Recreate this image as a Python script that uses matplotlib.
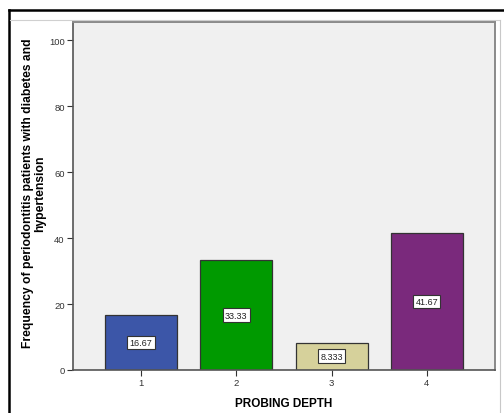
import matplotlib.pyplot as plt
from matplotlib.lines import Line2D

plt.rcParams['font.family'] = ['Liberation Sans', 'DejaVu Sans']

depth = [1, 2, 3, 4]
freq = [16.67, 33.33, 8.333, 41.67]
bar_labels = ['16.67', '33.33', '8.333', '41.67']
colors = ['#3c56a8', '#009a00', '#d6d19b', '#7a297c']
yticks = [0, 20, 40, 60, 80, 100]

fig = plt.figure(figsize=(5.04, 4.14), dpi=100)
ax = fig.add_axes([0.1448, 0.1039, 0.982 - 0.1448, 0.9444 - 0.1039])
ax.set_facecolor('#f0f0f0')

bars = ax.bar(depth, freq, width=0.755, color=colors, edgecolor='#333333', linewidth=0.9, zorder=2)
for b, lab in zip(bars, bar_labels):
    ax.text(b.get_x() + b.get_width() / 2, b.get_height() / 2, lab,
            ha='center', va='center', fontsize=6.5, color='#222222', zorder=3,
            bbox=dict(boxstyle='square,pad=0.25', fc='white', ec='#333333', lw=0.8))

ax.set_xlim(0.286, 4.714)
ax.set_ylim(0, 105.5)
ax.set_xticks(depth)
ax.set_yticks(yticks)
ax.tick_params(axis='both', labelsize=6.8, labelcolor='#333333', color='#333333', length=4, width=0.8, pad=2)

for s in ['top', 'right']:
    ax.spines[s].set_color('#8a8a8a')
    ax.spines[s].set_linewidth(1.4)
for s in ['left', 'bottom']:
    ax.spines[s].set_color('#555555')
    ax.spines[s].set_linewidth(1.2)

ax.set_xlabel('PROBING DEPTH', fontsize=8.5, fontweight='bold')
ax.xaxis.set_label_coords(0.5, -0.078)
ax.set_ylabel('Frequency of periodontitis patients with diabetes and\nhypertension',
              fontsize=8.7, fontweight='bold', linespacing=1.05)
ax.yaxis.set_label_coords(-0.064, 0.51)

# outer frame like the source screenshot
W, H = 504, 414
fig.add_artist(Line2D([9 / W, 1], [1 - 11 / H, 1 - 11 / H], color='black', lw=1.8))
fig.add_artist(Line2D([9 / W, 9 / W], [0, 1 - 11 / H], color='black', lw=1.8))
fig.add_artist(Line2D([10 / W, 500 / W], [1 - 21 / H, 1 - 21 / H], color='#d0d0d0', lw=0.8))
fig.add_artist(Line2D([500 / W, 500 / W], [0, 1 - 21 / H], color='#c8c8c8', lw=0.8))

fig.savefig('out.png', dpi=100)
